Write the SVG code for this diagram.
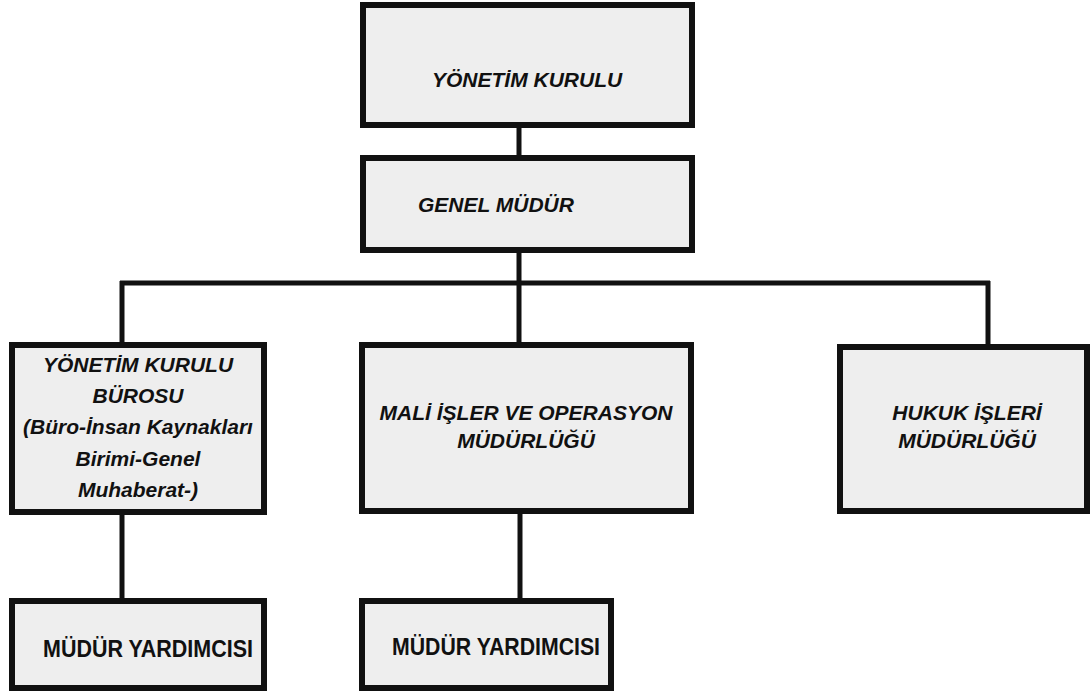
<svg xmlns="http://www.w3.org/2000/svg" width="1091" height="693" viewBox="0 0 1091 693">
<style>
.box{fill:#eeeeee;stroke:#111;stroke-width:6}
.conn{stroke:#111;stroke-width:5;fill:none}
.t{font-family:"Liberation Sans",Arial,sans-serif;font-weight:bold;font-style:italic;font-size:21px;fill:#111}
.n{font-family:"Liberation Sans",Arial,sans-serif;font-weight:bold;font-size:23px;fill:#111}
.c{text-anchor:middle}
</style>
<rect width="1091" height="693" fill="#ffffff"/>
<g id="connectors">
<line class="conn" x1="519" y1="125" x2="519" y2="158"/>
<line class="conn" x1="519" y1="250" x2="519" y2="283"/>
<line class="conn" x1="120" y1="283" x2="990" y2="283"/>
<line class="conn" x1="122" y1="281" x2="122" y2="345"/>
<line class="conn" x1="519" y1="283" x2="519" y2="345"/>
<line class="conn" x1="988" y1="281" x2="988" y2="346"/>
<line class="conn" x1="122" y1="512" x2="122" y2="601"/>
<line class="conn" x1="520" y1="511" x2="520" y2="601"/>
</g>
<g id="yonetim-kurulu">
<rect class="box" x="363" y="5" width="329" height="120"/>
<text class="t" x="432" y="87">YÖNETİM KURULU</text>
</g>
<g id="genel-mudur">
<rect class="box" x="363" y="158" width="329" height="92"/>
<text class="t" x="418" y="212">GENEL MÜDÜR</text>
</g>
<g id="yonetim-kurulu-burosu">
<rect class="box" x="12" y="345" width="252" height="167"/>
<text class="t c" x="138" y="372">YÖNETİM KURULU</text>
<text class="t c" x="138" y="403">BÜROSU</text>
<text class="t c" x="138" y="434">(Büro-İnsan Kaynakları</text>
<text class="t c" x="138" y="466">Birimi-Genel</text>
<text class="t c" x="138" y="497">Muhaberat-)</text>
</g>
<g id="mali-isler">
<rect class="box" x="362" y="345" width="329" height="166"/>
<text class="t c" x="526" y="420">MALİ İŞLER VE OPERASYON</text>
<text class="t c" x="526" y="448">MÜDÜRLÜĞÜ</text>
</g>
<g id="hukuk-isleri">
<rect class="box" x="840" y="347" width="247" height="164"/>
<text class="t c" x="967" y="420">HUKUK İŞLERİ</text>
<text class="t c" x="967" y="448">MÜDÜRLÜĞÜ</text>
</g>
<g id="mudur-yardimcisi-1">
<rect class="box" x="12" y="601" width="252" height="87"/>
<text class="n" x="43" y="657" textLength="210" lengthAdjust="spacingAndGlyphs">MÜDÜR YARDIMCISI</text>
</g>
<g id="mudur-yardimcisi-2">
<rect class="box" x="362" y="601" width="249" height="87"/>
<text class="n" x="392" y="655" textLength="208" lengthAdjust="spacingAndGlyphs">MÜDÜR YARDIMCISI</text>
</g>
</svg>
